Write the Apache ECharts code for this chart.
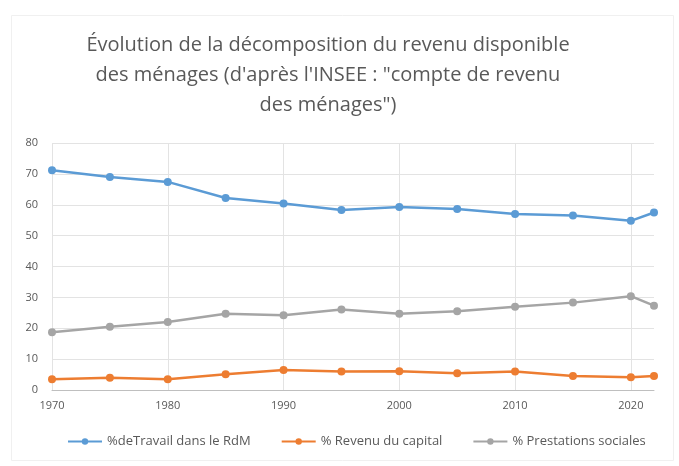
<!DOCTYPE html>
<html>
<head>
<meta charset="utf-8">
<script src="https://cdn.jsdelivr.net/npm/echarts@6/dist/echarts.min.js"></script>
<style>html,body{margin:0;padding:0;background:#fff;}#c{width:679px;height:466px;}</style>
</head>
<body>
<div id="c"></div>
<script>
const years = [1970, 1975, 1980, 1985, 1990, 1995, 2000, 2005, 2010, 2015, 2020, 2022];
const travail = [71.2, 69.0, 67.4, 62.2, 60.4, 58.3, 59.3, 58.6, 57.0, 56.5, 54.8, 57.5];
const capital = [3.5, 4.0, 3.5, 5.1, 6.5, 6.0, 6.1, 5.4, 6.0, 4.5, 4.1, 4.5];
const prestations = [18.7, 20.5, 22.0, 24.7, 24.2, 26.1, 24.7, 25.5, 27.0, 28.3, 30.4, 27.3];
const seriesNames = ['%deTravail dans le RdM', '% Revenu du capital', '% Prestations sociales'];
const colors = ['#5B9BD5', '#ED7D31', '#A5A5A5'];
const titleText = "Évolution de la décomposition du revenu disponible\ndes ménages (d'après l'INSEE : \"compte de revenu\ndes ménages\")";

const font = 'Open Sans';
function pairs(vals) { return years.map((y, i) => [y, vals[i]]); }
const dataSets = [travail, capital, prestations];

const chart = echarts.init(document.getElementById('c'), null, {renderer: 'canvas'});
chart.setOption({
  backgroundColor: '#fff',
  animation: false,
  graphic: [{
    type: 'rect', left: 9, top: 13, shape: {width: 662, height: 445},
    style: {fill: 'none', stroke: '#F0F0F0', lineWidth: 1}, silent: true, z: -1
  }, {
    type: 'text', x: 328, y: 30, silent: true,
    style: {
      text: titleText, align: 'center', verticalAlign: 'top',
      fontFamily: font, fontSize: 20, fill: '#595959', lineHeight: 30
    }
  }],
  legend: {
    bottom: 13, left: 62,
    itemWidth: 34, itemHeight: 8, itemGap: 30,
    textStyle: {fontFamily: font, fontSize: 13, color: '#595959'},
    data: seriesNames
  },
  grid: {left: 52, right: 25, top: 143, bottom: 76, containLabel: false},
  xAxis: {
    type: 'value', min: 1970, max: 2022, interval: 10,
    axisLine: {show: true, lineStyle: {color: '#BFBFBF', width: 1}},
    axisTick: {show: false},
    splitLine: {show: true, showMaxLine: false, lineStyle: {color: '#E3E3E3', width: 1}},
    axisLabel: {
      showMaxLabel: false, margin: 10,
      fontFamily: font, fontSize: 11, color: '#595959',
      formatter: v => (v % 10 === 0 ? String(v) : '')
    }
  },
  yAxis: {
    type: 'value', min: 0, max: 80, interval: 10,
    axisLine: {show: false}, axisTick: {show: false},
    splitLine: {show: true, lineStyle: {color: '#E3E3E3', width: 1}},
    axisLabel: {fontFamily: font, fontSize: 11, color: '#595959', margin: 14}
  },
  series: seriesNames.map((n, i) => ({
    name: n, type: 'line', data: pairs(dataSets[i]),
    symbol: 'circle', symbolSize: 8,
    lineStyle: {color: colors[i], width: 2.5},
    itemStyle: {color: colors[i]}
  }))
});
</script>
</body>
</html>
